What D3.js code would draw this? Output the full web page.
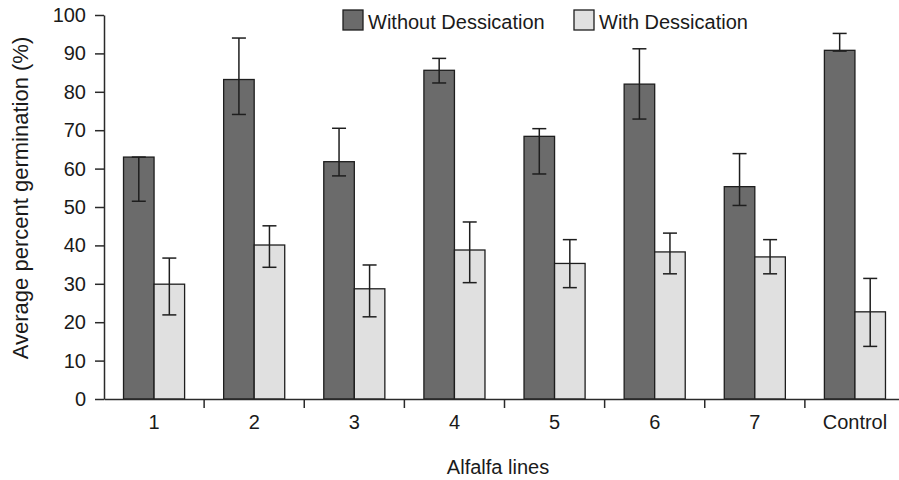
<!DOCTYPE html>
<html>
<head>
<meta charset="utf-8">
<script src="https://cdn.jsdelivr.net/npm/d3@7"></script>
<style>
  body { margin: 0; background: #fff; }
  text { font-family: "Liberation Sans", Arial, sans-serif; fill: #1a1a1a; }
</style>
</head>
<body>
<div id="chart"></div>
<script>
// data
const categories = ["1", "2", "3", "4", "5", "6", "7", "Control"];
const seriesNames = ["Without Dessication", "With Dessication"];
const withoutMean = [63, 83.2, 61.8, 85.6, 68.4, 82, 55.3, 90.8];
const withoutLow  = [51.5, 74.1, 58.1, 82.3, 58.6, 72.9, 50.4, 90.6];
const withoutHigh = [63, 94, 70.5, 88.7, 70.4, 91.2, 63.9, 95.2];
const withMean = [29.9, 40.1, 28.7, 38.8, 35.3, 38.3, 37, 22.7];
const withLow  = [21.9, 34.3, 21.4, 30.3, 29, 32.6, 32.6, 13.7];
const withHigh = [36.7, 45.1, 34.9, 46.1, 41.5, 43.2, 41.5, 31.4];
const yTicks = [0, 10, 20, 30, 40, 50, 60, 70, 80, 90, 100];

const colours = ["#6b6b6b", "#e0e0e0"];

// sizes
const width = 899, height = 480;
const margin = { left: 104, top: 15, bottom: 81 };
const plotRight = 905; // last band runs past the picture edge

var svg = d3.select("#chart")
  .append("svg")
  .attr("width", width)
  .attr("height", height);

// scales
var x0 = d3.scaleBand()
  .domain(categories)
  .range([margin.left, plotRight])
  .paddingInner(0.39)
  .paddingOuter(0.195);

var x1 = d3.scaleBand()
  .domain(seriesNames)
  .range([0, x0.bandwidth()]);

var y = d3.scaleLinear()
  .domain([0, 100])
  .range([height - margin.bottom, margin.top]);

// pack rows per category
var rows = categories.map((c, i) => [
  { cat: c, s: seriesNames[0], v: withoutMean[i], lo: withoutLow[i], hi: withoutHigh[i] },
  { cat: c, s: seriesNames[1], v: withMean[i], lo: withLow[i], hi: withHigh[i] }
]);

// bars
var groups = svg.append("g")
  .selectAll("g")
  .data(rows)
  .enter()
  .append("g")
  .attr("transform", (d, i) => "translate(" + x0(categories[i]) + ",0)");

groups.selectAll("rect")
  .data(d => d)
  .enter()
  .append("rect")
  .attr("x", d => x1(d.s))
  .attr("y", d => y(d.v))
  .attr("width", x1.bandwidth())
  .attr("height", d => y(0) - y(d.v))
  .style("fill", (d, i) => colours[i])
  .style("stroke", "#1e1e1e")
  .style("stroke-width", 1.3);

// error bars
var capW = 7;
var errs = groups.selectAll("g.err")
  .data(d => d)
  .enter()
  .append("g")
  .attr("class", "err")
  .style("stroke", "#1e1e1e")
  .style("stroke-width", 1.5);

errs.append("line")
  .attr("x1", d => x1(d.s) + x1.bandwidth() / 2)
  .attr("x2", d => x1(d.s) + x1.bandwidth() / 2)
  .attr("y1", d => y(d.lo))
  .attr("y2", d => y(d.hi));
errs.append("line")
  .attr("x1", d => x1(d.s) + x1.bandwidth() / 2 - capW)
  .attr("x2", d => x1(d.s) + x1.bandwidth() / 2 + capW)
  .attr("y1", d => y(d.lo))
  .attr("y2", d => y(d.lo));
errs.append("line")
  .attr("x1", d => x1(d.s) + x1.bandwidth() / 2 - capW)
  .attr("x2", d => x1(d.s) + x1.bandwidth() / 2 + capW)
  .attr("y1", d => y(d.hi))
  .attr("y2", d => y(d.hi));

// y axis
var yAxis = svg.append("g")
  .attr("transform", "translate(" + margin.left + ",0)")
  .call(d3.axisLeft(y).tickValues(yTicks).tickSize(9).tickSizeOuter(0).tickPadding(9));

// x axis: ticks at the category boundaries
var xAxis = svg.append("g")
  .attr("transform", "translate(0," + y(0) + ")")
  .call(d3.axisBottom(x0).tickSize(0).tickSizeOuter(0).tickPadding(16));

var step = x0.step();
xAxis.selectAll(".sep")
  .data(categories.slice(1))
  .enter()
  .append("line")
  .attr("class", "sep")
  .attr("x1", d => x0(d) - x0.paddingInner() * step / 2)
  .attr("x2", d => x0(d) - x0.paddingInner() * step / 2)
  .attr("y1", 0)
  .attr("y2", 9);

svg.selectAll(".domain, .tick line, .sep")
  .style("stroke", "#2a2a2a")
  .style("stroke-width", 1.5);
svg.selectAll(".tick text")
  .style("font-size", "20px")
  .style("font-family", "Liberation Sans, Arial, sans-serif")
  .style("fill", "#1a1a1a");

// axis titles
svg.append("text")
  .text("Alfalfa lines")
  .attr("x", 498)
  .attr("y", 474)
  .style("text-anchor", "middle")
  .style("font-size", "20px");

svg.append("text")
  .text("Average percent germination (%)")
  .attr("transform", "translate(28,198) rotate(-90)")
  .style("text-anchor", "middle")
  .style("font-size", "22px");

// legend
var legendX = [343, 574];
var legend = svg.append("g")
  .selectAll("g")
  .data(seriesNames)
  .enter()
  .append("g")
  .attr("transform", (d, i) => "translate(" + legendX[i] + ",10)");

legend.append("rect")
  .attr("width", 20)
  .attr("height", 20)
  .style("fill", (d, i) => colours[i])
  .style("stroke", "#1e1e1e")
  .style("stroke-width", 1.3);

legend.append("text")
  .text(d => d)
  .attr("x", 25)
  .attr("y", 19)
  .style("font-size", "20px");
</script>
</body>
</html>
